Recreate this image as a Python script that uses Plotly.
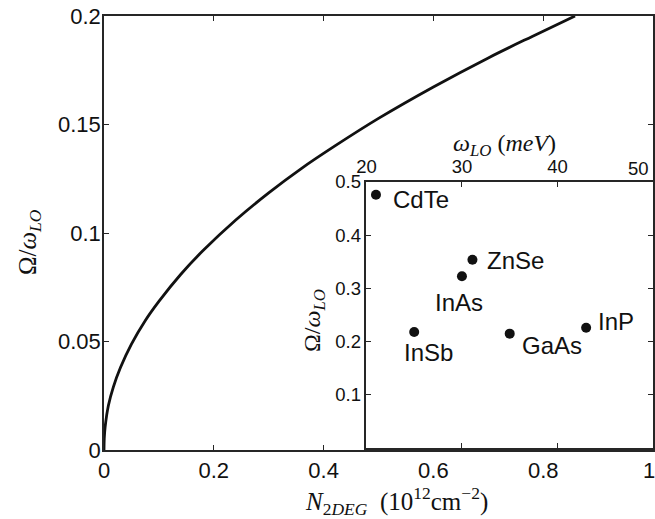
import plotly.graph_objects as go

# Main curve: Omega/omega_LO vs N_2DEG
n2deg = [0, 0.0005, 0.002, 0.008, 0.017, 0.03, 0.05, 0.075, 0.1, 0.14, 0.18,
         0.24, 0.3, 0.36, 0.42, 0.5, 0.6, 0.7, 0.78, 0.858]
omega_ratio = [0, 0.0055, 0.0105, 0.0205, 0.029, 0.038, 0.0488, 0.0596, 0.0685, 0.081, 0.0918,
               0.106, 0.1185, 0.1298, 0.140, 0.1528, 0.1673, 0.1807, 0.1906, 0.2]

# Inset: materials
materials = ["CdTe", "ZnSe", "InAs", "InSb", "GaAs", "InP"]
w_lo = [21.0, 31.1, 30.0, 25.0, 35.0, 43.0]
ratio = [0.476, 0.354, 0.323, 0.218, 0.215, 0.226]

main_xticks = [0, 0.2, 0.4, 0.6, 0.8, 1]
main_xlabels = ["0", "0.2", "0.4", "0.6", "0.8", "1"]
main_yticks = [0, 0.05, 0.1, 0.15, 0.2]
main_ylabels = ["0", "0.05", "0.1", "0.15", "0.2"]
inset_xticks = [20, 30, 40, 50]
inset_yticks = [0.1, 0.2, 0.3, 0.4, 0.5]
inset_ylabels = ["0.1", "0.2", "0.3", "0.4", "0.5"]

AX = "#262626"
TXT = "#111111"
SANS = "Liberation Sans, Arial, sans-serif"
SERIF = "Liberation Serif, Times New Roman, serif"
NB = "\u00a0"

fig = go.Figure()
fig.add_trace(go.Scatter(x=n2deg, y=omega_ratio, mode="lines",
                         line=dict(color=TXT, width=2.8, shape="spline", smoothing=1.0),
                         xaxis="x", yaxis="y", showlegend=False, hoverinfo="skip"))
# dummy traces to make tick-only overlay axes render
fig.add_trace(go.Scatter(x=[None], y=[None], xaxis="x3", yaxis="y", showlegend=False))
fig.add_trace(go.Scatter(x=[None], y=[None], xaxis="x4", yaxis="y", showlegend=False))
fig.add_trace(go.Scatter(x=[None], y=[None], xaxis="x", yaxis="y3", showlegend=False))

fig.add_trace(go.Scatter(x=w_lo, y=ratio, mode="markers",
                         marker=dict(color=TXT, size=10),
                         xaxis="x2", yaxis="y2", showlegend=False, hoverinfo="skip"))

# label offsets (pixels) relative to points
offsets = {
    "CdTe": (15, -5, "left"),
    "ZnSe": (13, -1, "left"),
    "InAs": (-3, -26, "center"),
    "InSb": (14, -20, "center"),
    "GaAs": (10, -12, "left"),
    "InP": (10, 6, "left"),
}
annotations = []
for m, xv, yv in zip(materials, w_lo, ratio):
    dx, dy, anc = offsets[m]
    annotations.append(dict(x=xv, y=yv, xref="x2", yref="y2", text=m, showarrow=False,
                            xanchor=anc, yanchor="middle", xshift=dx, yshift=dy,
                            font=dict(family=SANS, size=24, color=TXT)))

# end tick labels that sit at the right border of the figure
annotations += [
    dict(x=main_xticks[-1], y=0, xref="x", yref="y", text=main_xlabels[-1], showarrow=False,
         xanchor="right", yanchor="top", xshift=4, yshift=-6,
         font=dict(family=SANS, size=22, color=TXT)),
    dict(x=inset_xticks[-1], y=0.5, xref="x2", yref="y2", text=str(inset_xticks[-1]), showarrow=False,
         xanchor="right", yanchor="bottom", xshift=-2, yshift=1,
         font=dict(family=SANS, size=18.5, color=TXT)),
]

annotations += [
    dict(x=0.532, y=-0.117, xref="paper", yref="paper", showarrow=False,
         text="<i>N</i><sub>2<i>DEG</i></sub>" + NB * 2 + "(10<sup>12</sup>cm<sup>−2</sup>)",
         xanchor="center", yanchor="middle", font=dict(family=SERIF, size=25, color=TXT)),
    dict(x=-0.1366, y=0.479, xref="paper", yref="paper", showarrow=False, textangle=-90,
         text="Ω/<i>ω</i><sub><i>LO</i></sub>",
         xanchor="center", yanchor="middle", font=dict(family=SERIF, size=25, color=TXT)),
    dict(x=0.3825, y=0.2995, xref="paper", yref="paper", showarrow=False, textangle=-90,
         text="Ω/<i>ω</i><sub><i>LO</i></sub>",
         xanchor="center", yanchor="middle", font=dict(family=SERIF, size=24, color=TXT)),
    dict(x=0.7304, y=0.702, xref="paper", yref="paper", showarrow=False,
         text="<i>ω</i><sub><i>LO</i></sub>" + NB + "(<i>meV</i>)",
         xanchor="center", yanchor="middle", font=dict(family=SERIF, size=24, color=TXT)),
]

common = dict(showgrid=False, zeroline=False, linecolor=AX, tickcolor=AX, automargin=False)

fig.update_layout(
    width=655, height=519,
    margin=dict(l=104, r=2, t=16, b=69, autoexpand=False),
    paper_bgcolor="white", plot_bgcolor="white",
    xaxis=dict(domain=[0, 1], range=[0, 1], tickvals=main_xticks[:-1], ticktext=main_xlabels[:-1],
               ticks="", showline=True, linewidth=1.6, mirror=True,
               tickfont=dict(family=SANS, size=22, color=TXT), anchor="y", **common),
    yaxis=dict(domain=[0, 1], range=[0, 0.2], tickvals=main_yticks,
               ticktext=main_ylabels, ticklabelstandoff=-3,
               ticks="inside", ticklen=5, tickwidth=1, showline=True, linewidth=1.5, mirror=True,
               tickfont=dict(family=SANS, size=22, color=TXT), anchor="x", **common),
    xaxis3=dict(overlaying="x", anchor="y", side="top", range=[0, 1], tickvals=[0.2, 0.4, 0.6, 0.8],
                ticks="inside", ticklen=5, tickwidth=1, showticklabels=False, showline=False, **common),
    xaxis4=dict(overlaying="x", anchor="y", side="bottom", range=[0, 1], tickvals=[0.2, 0.4],
                ticks="inside", ticklen=5, tickwidth=1, showticklabels=False, showline=False, **common),
    yaxis3=dict(overlaying="y", anchor="x", side="right", range=[0, 0.2], tickvals=[0.15],
                ticks="inside", ticklen=5, tickwidth=1, showticklabels=False, showline=False, **common),
    xaxis2=dict(domain=[0.478, 1], range=[20, 50], tickvals=inset_xticks[:-1], side="top", anchor="y2",
                ticks="inside", ticklen=5, tickwidth=1, showline=True, linewidth=1.5, mirror="ticks",
                tickfont=dict(family=SANS, size=18.5, color=TXT), **common),
    yaxis2=dict(domain=[0.0046, 0.6175], range=[0, 0.5], tickvals=inset_yticks, anchor="x2",
                ticktext=inset_ylabels,
                ticks="inside", ticklen=5, tickwidth=1, showline=True, linewidth=1.5, mirror="ticks",
                tickfont=dict(family=SANS, size=18.5, color=TXT), **common),
    annotations=annotations,
)

fig.write_html("out.html", config={"displayModeBar": False},
               post_script="document.body.style.margin='0';")
